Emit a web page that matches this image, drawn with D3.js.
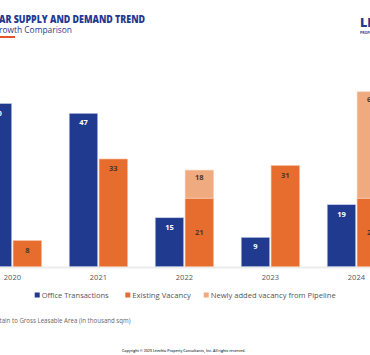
<!DOCTYPE html>
<html><head><meta charset="utf-8">
<script src="https://cdn.jsdelivr.net/npm/d3@7"></script>
<style>html,body{margin:0;padding:0;background:#fff;}svg{display:block;}</style>
</head><body>
<script>
const years = ["2020","2021","2022","2023","2024"];
const officeTransactions = [50, 47, 15, 9, 19];
const existingVacancy = [8, 33, 21, 31, 21];
// pipeline segment as drawn (height read against the axis), and its printed label
const pipelineDrawn = [0, 0, 8.6, 0, 32.6];
const pipelineLabels = ["", "", "18", "", "64"];
const legendLabels = ["Office Transactions", "Existing Vacancy", "Newly added vacancy from Pipeline"];
const colors = {blue:"#1f3a8f", orange:"#e76d2f", light:"#f0aa80", navy:"#1f3a8f"};

const W=370,H=355;
const svg=d3.select("body").append("svg").attr("width",W).attr("height",H);
const font="'Open Sans', sans-serif";

// header
svg.append("text").attr("x",-1).attr("y",22.5).attr("font-family",font).attr("font-weight",800)
  .attr("font-size",10).attr("fill",colors.navy).attr("textLength",146).attr("lengthAdjust","spacingAndGlyphs")
  .text("AR SUPPLY AND DEMAND TREND");
svg.append("text").attr("x",-1).attr("y",32.5).attr("font-family",font).attr("font-size",8.2)
  .attr("fill",colors.navy).attr("textLength",73).attr("lengthAdjust","spacingAndGlyphs").text("rowth Comparison");
svg.append("rect").attr("x",0).attr("y",36).attr("width",15).attr("height",2).attr("fill","#e5532a");
svg.append("text").attr("x",360).attr("y",26.5).attr("font-family",font).attr("font-weight",800)
  .attr("font-size",12.5).attr("fill",colors.navy).text("LEECHIU");
svg.append("text").attr("x",360).attr("y",34).attr("font-family",font).attr("font-weight",700)
  .attr("font-size",3.5).attr("fill",colors.navy).text("PROPERTY CONSULTANTS");

// scales
const x0=d3.scaleBand().domain(years).range([12.4-43, 12.4-43+5*86]).padding(0);
const x1=d3.scaleBand().domain(["tx","vac"]).range([13.8, 72.2]).paddingInner(0.045);
const y=d3.scaleLinear().domain([0,50]).range([266.7,103.5]);

// baseline
svg.append("line").attr("x1",0).attr("x2",W).attr("y1",267.5).attr("y2",267.5)
  .attr("stroke","#ececec").attr("stroke-width",2);

const g=svg.append("g");
years.forEach((yr,i)=>{
  const gx=x0(yr);
  const bw=x1.bandwidth();
  // blue
  const bx=gx+x1("tx");
  g.append("rect").attr("x",bx).attr("y",y(officeTransactions[i])).attr("width",bw)
    .attr("height",y(0)-y(officeTransactions[i])).attr("fill",colors.blue).attr("stroke","#c8d0e8").attr("stroke-width",0.6);
  g.append("text").attr("x",bx+bw/2).attr("y",y(officeTransactions[i])+12).attr("text-anchor","middle")
    .attr("font-family",font).attr("font-weight",700).attr("font-size",7.5).attr("fill","#fff").text(officeTransactions[i]);
  // orange
  const ox=gx+x1("vac");
  g.append("rect").attr("x",ox).attr("y",y(existingVacancy[i])).attr("width",bw)
    .attr("height",y(0)-y(existingVacancy[i])).attr("fill",colors.orange).attr("stroke","#f6c2a4").attr("stroke-width",0.6);
  const ly = pipelineDrawn[i]>0 ? (y(existingVacancy[i])+y(0))/2+3 : y(existingVacancy[i])+12.5;
  g.append("text").attr("x",ox+bw/2).attr("y",ly).attr("text-anchor","middle")
    .attr("font-family",font).attr("font-weight",700).attr("font-size",7.5).attr("fill","#4a3730").text(existingVacancy[i]);
  if(pipelineDrawn[i]>0){
    const top=existingVacancy[i]+pipelineDrawn[i];
    g.append("rect").attr("x",ox).attr("y",y(top)).attr("width",bw)
      .attr("height",y(existingVacancy[i])-y(top)).attr("fill",colors.light).attr("stroke","#f9d6c0").attr("stroke-width",0.6);
    g.append("text").attr("x",ox+bw/2).attr("y",y(top)+10).attr("text-anchor","middle")
      .attr("font-family",font).attr("font-weight",700).attr("font-size",7.5).attr("fill","#4a3730").text(pipelineLabels[i]);
  }
  g.append("text").attr("x",gx+43).attr("y",280).attr("text-anchor","middle").attr("font-family",font)
    .attr("font-size",7.5).attr("fill","#555").text(yr);
});

// legend
const legX=[34.7,125.3,203.7], legW=[67,58.5,125], legC=[colors.blue,colors.orange,colors.light];
legendLabels.forEach((t,i)=>{
  svg.append("rect").attr("x",legX[i]).attr("y",292.5).attr("width",5).attr("height",5).attr("fill",legC[i]);
  svg.append("text").attr("x",legX[i]+7).attr("y",298).attr("font-family",font).attr("font-size",7.5)
    .attr("fill","#555").attr("textLength",legW[i]).attr("lengthAdjust","spacingAndGlyphs").text(t);
});

svg.append("text").attr("x",-0.5).attr("y",323).attr("font-family",font).attr("font-size",6.8)
  .attr("fill","#666").attr("textLength",131).attr("lengthAdjust","spacingAndGlyphs")
  .text("tain to Gross Leasable Area (in thousand sqm)");
svg.append("text").attr("x",122).attr("y",351.5).attr("font-family",font).attr("font-size",4)
  .attr("font-weight",600).attr("fill","#333").attr("textLength",123.5).attr("lengthAdjust","spacingAndGlyphs")
  .text("Copyright © 2025 Leechiu Property Consultants, Inc. All rights reserved.");
</script>
</body></html>
